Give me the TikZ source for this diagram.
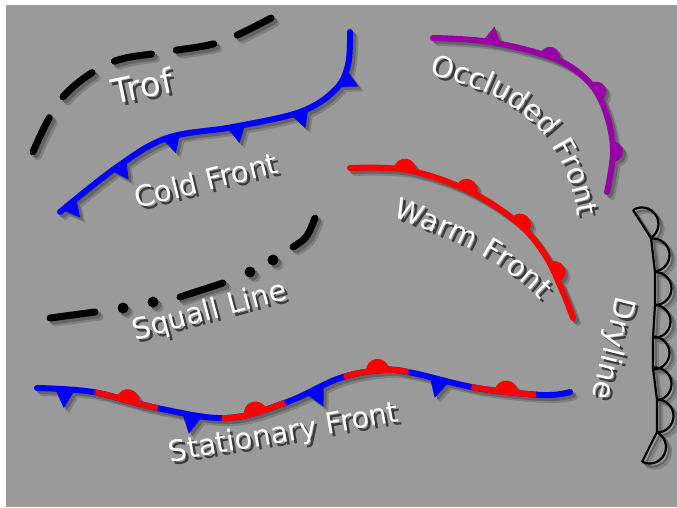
\documentclass[tikz,border=0pt]{standalone}
\usepackage{fontspec}
\setmainfont{DejaVu Sans}
\usetikzlibrary{decorations.markings,decorations.text}
\definecolor{bg}{RGB}{154,154,154}
\definecolor{shadA}{RGB}{128,128,128}
\definecolor{shadB}{RGB}{100,100,100}
\definecolor{tshad}{RGB}{60,60,60}
\definecolor{fblue}{RGB}{0,0,250}
\definecolor{fred}{RGB}{250,0,0}
\definecolor{fpurple}{RGB}{150,0,165}
\newcommand\lblfont{\fontsize{29pt}{31pt}\selectfont}
\newcommand\bigfont{\fontsize{34pt}{36pt}\selectfont}
\tikzset{
  frontline/.style={line width=6pt, line cap=round, line join=round},
  lbl/.style={font=\lblfont, inner sep=0pt}
}
% marking shapes
\newcommand\triD[3]{\fill[#1] (-#2,0pt) -- (#2,0pt) -- (0pt,-#3) -- cycle;}
\newcommand\triU[3]{\fill[#1] (-#2,0pt) -- (#2,0pt) -- (0pt,#3) -- cycle;}
\newcommand\semiU[2]{\fill[#1] (-#2,0pt) arc[start angle=180,end angle=0,radius=#2] -- cycle;}
\newcommand\semiO[1]{\draw[#1, line width=2.2pt] (-16.5pt,0pt) arc[start angle=180,end angle=0,radius=16.5pt];}
% fronts
\newcommand\troff[1]{%
  \draw[#1, line width=7pt, line cap=round, dash pattern=on 38pt off 25pt]
    plot[smooth, tension=0.6] coordinates {(33,152) (62,98) (110,63) (165,52) (220,42) (273,17)};}
\newcommand\coldfront[1]{%
  \draw[#1, frontline, postaction={decorate}, decoration={markings,
    mark=at position 12pt with {\triD{#1}{9pt}{17pt}},
    mark=at position 75pt with {\triD{#1}{9pt}{17pt}},
    mark=at position 135pt with {\triD{#1}{9pt}{17pt}},
    mark=at position 201pt with {\triD{#1}{9pt}{17pt}},
    mark=at position 266pt with {\triD{#1}{9pt}{17pt}},
    mark=at position 322pt with {\triD{#1}{9pt}{17pt}}}]
    plot[smooth, tension=0.6] coordinates {(60,212) (117,167) (167,138) (233,127) (300,112) (335,90) (348,65) (350,32)};}
\newcommand\occfront[1]{%
  \draw[#1, frontline, postaction={decorate}, decoration={markings,
    mark=at position 59pt with {\triU{#1}{9pt}{16pt}},
    mark=at position 119pt with {\semiU{#1}{10pt}},
    mark=at position 178pt with {\semiU{#1}{10pt}},
    mark=at position 241pt with {\semiU{#1}{10pt}}}]
    plot[smooth, tension=0.6] coordinates {(433,38) (490,42) (553,58) (587,80) (605,110) (613,150) (607,192)};}
\newcommand\warmfront[1]{%
  \draw[#1, frontline, postaction={decorate}, decoration={markings,
    mark=at position 55pt with {\semiU{#1}{11pt}},
    mark=at position 120pt with {\semiU{#1}{11pt}},
    mark=at position 184pt with {\semiU{#1}{11pt}},
    mark=at position 243pt with {\semiU{#1}{11pt}}}]
    plot[smooth, tension=0.6] coordinates {(350,168) (407,170) (467,190) (517,222) (545,255) (562,290) (573,318)};}
\newcommand\squall[1]{%
  \draw[#1, line width=7pt, line cap=round]
    (50,318) -- (95,312)
    (180,297) -- (223,283)
    (293,247) .. controls (307,238) .. (315,218);
  \fill[#1] (123,308) circle[radius=5.5pt] (153,302) circle[radius=5.5pt]
            (250,272) circle[radius=5.5pt] (273,260) circle[radius=5.5pt];}
\newcommand\statpath{plot[smooth, tension=0.6] coordinates {(37,388) (93,392) (157,408) (227,418) (287,402) (340,378) (383,370) (413,373) (477,388) (543,395) (570,392)}}
\newcommand\statfront[2]{%
  \draw[#1, frontline, postaction={decorate}, decoration={markings,
    mark=at position 28pt with {\triD{#1}{10pt}{19pt}},
    mark=at position 92pt with {\semiU{#2}{11.5pt}},
    mark=at position 158pt with {\triD{#1}{10pt}{19pt}},
    mark=at position 222pt with {\semiU{#2}{11.5pt}},
    mark=at position 286pt with {\triD{#1}{10pt}{19pt}},
    mark=at position 352pt with {\semiU{#2}{11.5pt}},
    mark=at position 415pt with {\triD{#1}{10pt}{19pt}},
    mark=at position 483pt with {\semiU{#2}{11.5pt}}}] \statpath;
  \draw[#2, line width=6pt, dash pattern=on 65pt off 65pt, dash phase=72pt] \statpath;}
\newcommand\dryline[1]{%
  \draw[#1, line width=2.2pt, line join=round, postaction={decorate}, decoration={markings,
    mark=at position 16.6pt with {\semiO{#1}},
    mark=at position 50.4pt with {\semiO{#1}},
    mark=at position 84pt with {\semiO{#1}},
    mark=at position 117pt with {\semiO{#1}},
    mark=at position 148.6pt with {\semiO{#1}},
    mark=at position 179.7pt with {\semiO{#1}},
    mark=at position 211.8pt with {\semiO{#1}},
    mark=at position 244.6pt with {\semiO{#1}}}]
    (633,210) -- (651,238) -- (655,272) -- (655,305) -- (653,338) -- (653,368) -- (657,400) -- (657,432) -- (642,462);}
\newcommand\allfronts[4]{% #1 black, #2 blue, #3 red, #4 purple
  \troff{#1}\coldfront{#2}\occfront{#4}\warmfront{#3}\squall{#1}\statfront{#2}{#3}\dryline{#1}}
\newcommand\occtext[1]{%
  \path[decorate, decoration={text along path, text align=center, text color=#1,
    text={|\lblfont|Occluded Front}}]
    (428,74) .. controls (490,90) and (560,110) .. (578,218);}
\newcommand\warmtext[1]{%
  \path[decorate, decoration={text along path, text align=center, text color=#1,
    text={|\lblfont|Warm Front}}]
    (386,214) .. controls (440,235) and (500,255) .. (545,305);}
\begin{document}
\begin{tikzpicture}[x=1pt,y=-1pt]
\useasboundingbox (0,0) rectangle (677,507);
\fill[white] (0,0) rectangle (677,507);
\fill[bg] (6,5) rectangle (677,507);
% shadows of the fronts
\begin{scope}[shift={(5,5)}]
  \allfronts{shadA}{shadA}{shadA}{shadA}
\end{scope}
\begin{scope}[shift={(3,3)}]
  \allfronts{shadB}{shadB}{shadB}{shadB}
\end{scope}
% fronts
\allfronts{black}{fblue}{fred}{fpurple}
% label shadows
\begin{scope}[shift={(3,3)}]
  \node[lbl, font=\bigfont, text=tshad, rotate=12] (trofs) at (142,86) {Trof};
  \node[lbl, text=tshad, rotate=14] (colds) at (206,180) {Cold Front};
  \node[lbl, text=tshad, rotate=15] (squalls) at (210,312) {Squall Line};
  \node[lbl, text=tshad, rotate=10] (stats) at (284,434) {Stationary Front};
  \node[lbl, text=tshad, rotate=-104] (drys) at (612,348) {Dryline};
  \occtext{tshad}
  \warmtext{tshad}
\end{scope}
% labels
\node[lbl, font=\bigfont, text=white, rotate=12] (trof) at (142,86) {Trof};
\node[lbl, text=white, rotate=14] (cold) at (206,180) {Cold Front};
\node[lbl, text=white, rotate=15] (squall) at (210,312) {Squall Line};
\node[lbl, text=white, rotate=10] (stat) at (284,434) {Stationary Front};
\node[lbl, text=white, rotate=-104] (dry) at (612,348) {Dryline};
\occtext{white}
\warmtext{white}
\end{tikzpicture}
\end{document}
